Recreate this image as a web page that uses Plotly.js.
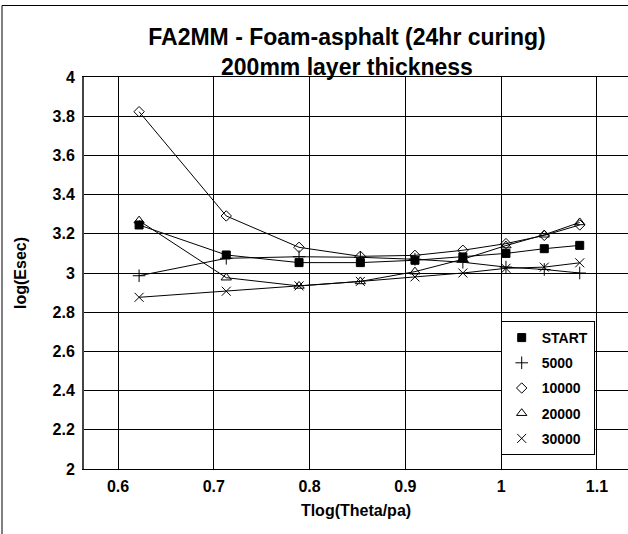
<!DOCTYPE html>
<html>
<head>
<meta charset="utf-8">
<script src="https://cdn.plot.ly/plotly-3.0.1.min.js"></script>
<style>html,body{margin:0;padding:0;background:#fff;}#chart{width:628px;height:534px;}</style>
</head>
<body>
<div id="chart"></div>
<script>
// Data
const xVals = [0.622, 0.713, 0.789, 0.853, 0.910, 0.960, 1.005, 1.045, 1.082];
const seriesNames = ["START", "5000", "10000", "20000", "30000"];
const startVals = [3.245, 3.092, 3.053, 3.053, 3.065, 3.082, 3.100, 3.124, 3.141];
const v5000 = [2.986, 3.075, 3.083, 3.080, 3.070, 3.055, 3.030, 3.018, 3.000];
const v10000 = [3.823, 3.291, 3.131, 3.085, 3.090, 3.116, 3.150, 3.192, 3.245];
const v20000 = [3.267, 2.976, 2.934, 2.957, 3.007, 3.070, 3.140, 3.195, 3.258];
const v30000 = [2.876, 2.907, 2.934, 2.957, 2.980, 3.000, 3.024, 3.030, 3.052];
const xTickVals = [0.6, 0.7, 0.8, 0.9, 1, 1.1];
const xTickText = ["0.6", "0.7", "0.8", "0.9", "1", "1.1"];
const yTickVals = [2, 2.2, 2.4, 2.6, 2.8, 3, 3.2, 3.4, 3.6, 3.8, 4];
const yTickText = ["2", "2.2", "2.4", "2.6", "2.8", "3", "3.2", "3.4", "3.6", "3.8", "4"];

const allY = [startVals, v5000, v10000, v20000, v30000];
const symbols = ["square", "cross-thin-open", "diamond-open", "triangle-up-open", "x-thin-open"];
const sizes = [8, 9, 8, 9, 9];

const FONT = "Liberation Sans, Arial, sans-serif";
const traces = [];
for (let i = 0; i < seriesNames.length; i++) {
  traces.push({
    x: xVals, y: allY[i], type: "scatter", mode: "lines+markers",
    name: seriesNames[i], showlegend: false,
    line: {color: "#000", width: 1},
    marker: {symbol: symbols[i], size: sizes[i], color: "#000", line: {color: "#000", width: 1}}
  });
}
for (let i = 0; i < seriesNames.length; i++) {
  traces.push({
    x: [null], y: [null], type: "scatter", mode: "markers",
    name: seriesNames[i], legendgroup: "g" + i, showlegend: true,
    marker: {symbol: symbols[i], size: sizes[i], color: "#000", line: {color: "#000", width: 1}}
  });
}

const layout = {
  width: 628, height: 534,
  margin: {l: 84, r: 0, t: 77, b: 65},
  paper_bgcolor: "#fff", plot_bgcolor: "#fff",
  font: {family: FONT, color: "#000", size: 16, weight: "bold"},
  title: {
    text: "FA2MM - Foam-asphalt (24hr curing)<br>200mm layer thickness",
    font: {family: FONT, size: 23, color: "#000", weight: "bold"},
    x: 0.5525, xref: "container", xanchor: "center",
    y: 1 - 45 / 534, yref: "container", yanchor: "top"
  },
  xaxis: {
    range: [0.5645, 1.1324], tickvals: xTickVals, ticktext: xTickText,
    showgrid: true, gridcolor: "#000", gridwidth: 1,
    showline: true, linecolor: "#000", linewidth: 1, mirror: true,
    ticks: "", zeroline: false, ticklabelstandoff: 3,
    tickfont: {family: FONT, size: 16, weight: "bold"},
    title: {text: "Tlog(Theta/pa)", font: {family: FONT, size: 16, weight: "bold"}, standoff: 10}
  },
  yaxis: {
    range: [2, 4], tickvals: yTickVals, ticktext: yTickText,
    showgrid: true, gridcolor: "#000", gridwidth: 1,
    showline: true, linecolor: "#444", linewidth: 2, mirror: true,
    ticks: "", zeroline: false, ticklabelstandoff: 4,
    tickfont: {family: FONT, size: 16, weight: "bold"},
    title: {text: "log(Esec)", font: {family: FONT, size: 16, weight: "bold"}, standoff: 22}
  },
  legend: {
    x: (500.7 - 84) / 544, y: (469 - 321) / 392, xanchor: "left", yanchor: "top",
    bgcolor: "#fff", bordercolor: "#000", borderwidth: 1,
    font: {family: FONT, size: 14, weight: "bold"},
    tracegroupgap: 4, itemwidth: 30
  },
  shapes: [
    {type: "rect", xref: "paper", yref: "paper",
     x0: (2 - 84) / 544, x1: 1.2, y0: -0.3, y1: (469 - 5.5) / 392,
     line: {color: "#000", width: 1}, fillcolor: "rgba(0,0,0,0)", layer: "below"}
  ]
};

Plotly.newPlot("chart", traces, layout, {displayModeBar: false, staticPlot: true});
</script>
</body>
</html>
